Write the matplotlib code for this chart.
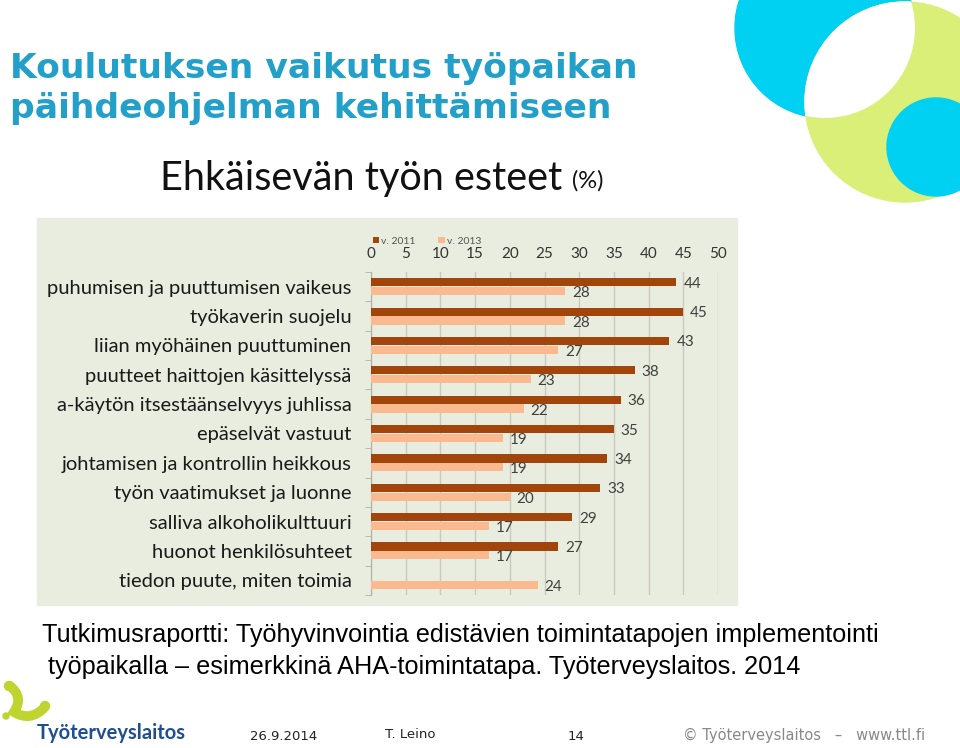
import numpy as np
import matplotlib.pyplot as plt
from matplotlib.patches import Circle, Rectangle
from matplotlib.path import Path
from matplotlib.patches import PathPatch

categories = ['puhumisen ja puuttumisen vaikeus', 'työkaverin suojelu',
              'liian myöhäinen puuttuminen', 'puutteet haittojen käsittelyssä',
              'a-käytön itsestäänselvyys juhlissa', 'epäselvät vastuut',
              'johtamisen ja kontrollin heikkous', 'työn vaatimukset ja luonne',
              'salliva alkoholikulttuuri', 'huonot henkilösuhteet',
              'tiedon puute, miten toimia']
v2011 = [44, 45, 43, 38, 36, 35, 34, 33, 29, 27, np.nan]
v2013 = [28, 28, 27, 23, 22, 19, 19, 20, 17, 17, 24]
xticks = [0, 5, 10, 15, 20, 25, 30, 35, 40, 45, 50]

dark = '#a1450b'
light = '#fbb990'
chart_font = 'Lato'

fig = plt.figure(figsize=(9.6, 7.48), dpi=100)

# slide layer in pixel coordinates
bg = fig.add_axes([0, 0, 1, 1])
bg.set_xlim(0, 960)
bg.set_ylim(748, 0)
bg.axis('off')

# decorative circles, top right
big = Circle((825, 28), 90, color='#00d0f2', zorder=1)
lime = Circle((905, 102), 100, color='#d9ef77', zorder=1)
bg.add_patch(big)
bg.add_patch(lime)
lens = Circle((905, 102), 100, color='white', zorder=2)
bg.add_patch(lens)
lens.set_clip_path(Circle((825, 28), 90, transform=bg.transData))
bg.add_patch(Circle((936, 147), 49, color='#00d0f2', zorder=3))

bg.text(10, 68, 'Koulutuksen vaikutus työpaikan', fontsize=24.8,
        fontweight='bold', color='#22a0ca', va='center', ha='left')
bg.text(10, 108, 'päihdeohjelman kehittämiseen', fontsize=24.8,
        fontweight='bold', color='#22a0ca', va='center', ha='left')

# chart panel
bg.add_patch(Rectangle((37, 218), 700, 387, color='#e9eddf', zorder=0))
bg.text(160, 178, 'Ehkäisevän työn esteet', fontsize=28.5, family=chart_font,
        color='#111111', va='center', ha='left')
bg.text(572, 181, '(%)', fontsize=17, family=chart_font, color='#111111',
        va='center', ha='left')

bg.text(42, 635, 'Tutkimusraportti: Työhyvinvointia edistävien toimintatapojen implementointi',
        fontsize=18.2, family='Liberation Sans', color='black', va='center')
bg.text(48, 667, 'työpaikalla – esimerkkinä AHA-toimintatapa. Työterveyslaitos. 2014',
        fontsize=18.2, family='Liberation Sans', color='black', va='center')

# footer
bg.text(250, 736, '26.9.2014', fontsize=9.5, color='#222222', va='center')
bg.text(385, 735, 'T. Leino', fontsize=9.5, color='#222222', va='center')
bg.text(568, 737, '14', fontsize=9.5, color='#222222', va='center')
bg.text(683, 735, '© Työterveyslaitos   –   www.ttl.fi', fontsize=10.5,
        color='#888888', va='center')

# logo
verts = [(10, 686), (24, 697), (14, 712), (30, 722), (44, 708)]
codes = [Path.MOVETO, Path.CURVE3, Path.CURVE3, Path.CURVE3, Path.CURVE3]
bg.add_patch(PathPatch(Path(verts, codes), fill=False, lw=7, color='#bfd42f',
                       capstyle='round'))
bg.add_patch(Circle((9, 686), 4.5, color='#bfd42f'))
bg.add_patch(Circle((45, 706), 4.5, color='#bfd42f'))
bg.add_patch(Circle((6, 716), 3, color='#bfd42f'))
bg.text(37, 733, 'Työterveyslaitos', fontsize=14.5, family=chart_font,
        fontweight='bold', color='#1f4f8e', va='center')

# bar chart
ax = fig.add_axes([371 / 960, 1 - 595 / 748, 347 / 960, 323 / 748])
ax.set_facecolor('none')
y = np.arange(len(categories))
h = 0.28
ax.barh(y - 0.15, v2011, height=h, color=dark, label='v. 2011', zorder=3)
ax.barh(y + 0.15, v2013, height=h, color=light, label='v. 2013', zorder=3)
for i in range(len(categories)):
    if not np.isnan(v2011[i]):
        ax.text(v2011[i] + 1, y[i] - 0.1, f'{v2011[i]:.0f}', fontsize=11,
                family=chart_font, color='#404040', va='center')
    ax.text(v2013[i] + 1, y[i] + 0.22, f'{v2013[i]:.0f}', fontsize=11,
            family=chart_font, color='#404040', va='center')

ax.set_xlim(0, 50)
ax.set_ylim(len(categories) - 0.5, -0.5)
ax.set_xticks(xticks)
ax.xaxis.tick_top()
ax.tick_params(axis='x', length=0, labelsize=11, labelcolor='#333333', pad=8)
for lab in ax.get_xticklabels():
    lab.set_family(chart_font)
ax.set_yticks(y)
ax.set_yticklabels(categories, fontsize=14.5, family=chart_font, color='#1a1a1a')
ax.tick_params(axis='y', length=0, pad=14)
ax.set_yticks(np.arange(len(categories) + 1) - 0.5, minor=True)
ax.tick_params(axis='y', which='minor', length=4, color='#b0b0a8')
ax.grid(axis='x', color='#c8c9c0', lw=1, zorder=0)
for s in ['top', 'right', 'bottom']:
    ax.spines[s].set_visible(False)
ax.spines['left'].set_color('#b0b0a8')

ax.legend(loc='lower left', bbox_to_anchor=(-0.01, 1.065), ncol=2, frameon=False,
          prop={'family': chart_font, 'size': 7.5}, handlelength=0.6,
          handleheight=0.6, handletextpad=0.2, columnspacing=2.2,
          labelcolor='#555555', borderpad=0)

fig.savefig('out.png', dpi=100)
